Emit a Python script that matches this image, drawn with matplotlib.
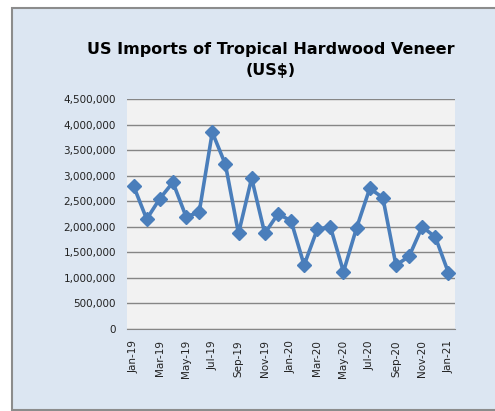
import matplotlib
matplotlib.use('Agg')
from matplotlib import pyplot as plt
from matplotlib.patches import Rectangle

# monthly US imports of tropical hardwood veneer, Jan-19 .. Jan-21
months = ['Jan-19', 'Feb-19', 'Mar-19', 'Apr-19', 'May-19', 'Jun-19', 'Jul-19', 'Aug-19',
          'Sep-19', 'Oct-19', 'Nov-19', 'Dec-19', 'Jan-20', 'Feb-20', 'Mar-20', 'Apr-20',
          'May-20', 'Jun-20', 'Jul-20', 'Aug-20', 'Sep-20', 'Oct-20', 'Nov-20', 'Dec-20',
          'Jan-21']
values = [2800000, 2150000, 2550000, 2870000, 2200000, 2280000, 3850000, 3220000,
          1870000, 2950000, 1870000, 2250000, 2120000, 1250000, 1950000, 2000000,
          1120000, 1980000, 2750000, 2570000, 1250000, 1420000, 2000000, 1800000,
          1100000]
y_ticks = [0, 500000, 1000000, 1500000, 2000000, 2500000, 3000000, 3500000, 4000000, 4500000]

LINE_COLOR = '#4a7ebb'
W, H = 495, 411

fig = plt.figure(figsize=(W / 100, H / 100), dpi=100)
fig.patch.set_facecolor('white')

# chart area frame (extends past the right edge)
fig.patches.append(Rectangle((12 / W, 1 - 410 / H), 1.0, (410 - 8) / H, transform=fig.transFigure,
                             facecolor='#dce6f2', edgecolor='#8c8c8c', linewidth=1.5, zorder=-10))

ax = fig.add_axes([127 / W, 1 - 329 / H, (455 - 127) / W, (329 - 99) / H])
ax.set_facecolor('#f2f2f2')

x = list(range(len(months)))
ax.plot(x, values, color=LINE_COLOR, linewidth=2.6, marker='D', markersize=7,
        markerfacecolor=LINE_COLOR, markeredgecolor=LINE_COLOR, zorder=3)

ax.set_xlim(-0.5, len(months) - 0.5)
ax.set_ylim(0, 4500000)
ax.set_yticks(y_ticks)
ax.set_yticklabels([f'{v:,}' for v in y_ticks], fontsize=7.5, color='#222222')
ax.set_xticks(x[::2])
ax.set_xticklabels(months[::2], rotation=90, fontsize=7.5, color='#222222')
ax.tick_params(axis='both', length=0, pad=8)
ax.grid(axis='y', color='#868686', linewidth=1)
ax.set_axisbelow(True)
for side in ['left', 'right', 'top']:
    ax.spines[side].set_visible(False)
ax.spines['bottom'].set_color('#868686')

fig.text(271 / W, 1 - 60 / H, 'US Imports of Tropical Hardwood Veneer\n(US$)', ha='center', va='center',
         fontsize=11.5, fontweight='bold', linespacing=1.55)

plt.savefig('out.png', dpi=100)
